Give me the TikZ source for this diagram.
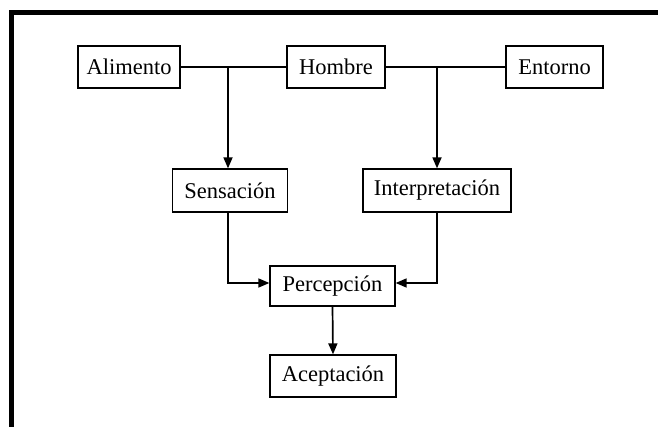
\documentclass[tikz,border=0pt]{standalone}
\usepackage{fontspec}
\setmainfont{Liberation Serif}
\usetikzlibrary{arrows.meta}
\begin{document}
\begin{tikzpicture}[x=1pt,y=-1pt,
  box/.style={draw,line width=1.3pt,minimum height=42pt,inner sep=0pt,
    font=\fontsize{22.5}{26}\selectfont},
  conn/.style={line width=1.7pt},
  arr/.style={conn,-{Triangle[length=11pt,width=9pt]}}]
\useasboundingbox (0,0) rectangle (658,427);
\draw[line width=5pt] (11.5,427) -- (11.5,12.5) -- (658,12.5);
\node[box,minimum width=102pt] (ali) at (129,67) {Alimento};
\node[box,minimum width=98pt] (hom) at (336,67) {Hombre};
\node[box,minimum width=97pt] (ent) at (554.5,67) {Entorno};
\node[box,minimum width=115pt,minimum height=43pt] (sen) at (230,190.5) {Sensación};
\node[box,minimum width=148pt,minimum height=43pt] (int) at (437,190.5) {Interpretación};
\node[box,minimum width=125pt,minimum height=40pt] (per) at (332.5,286) {Percepción};
\node[box,minimum width=126pt] (ace) at (333,376) {Aceptación};
\coordinate (j1) at (228,67);
\coordinate (j2) at (437,67);
\draw[conn] (ali.east) -- (hom.west);
\draw[conn] (hom.east) -- (ent.west);
\draw[arr] (j1) -- (j1 |- sen.north);
\draw[arr] (j2) -- (j2 |- int.north);
\draw[arr] (j1 |- sen.south) |- ([yshift=3pt]per.west);
\draw[arr] (j2 |- int.south) |- ([yshift=3pt]per.east);
\draw[arr] (per.south) -- (ace.north);
\end{tikzpicture}
\end{document}
